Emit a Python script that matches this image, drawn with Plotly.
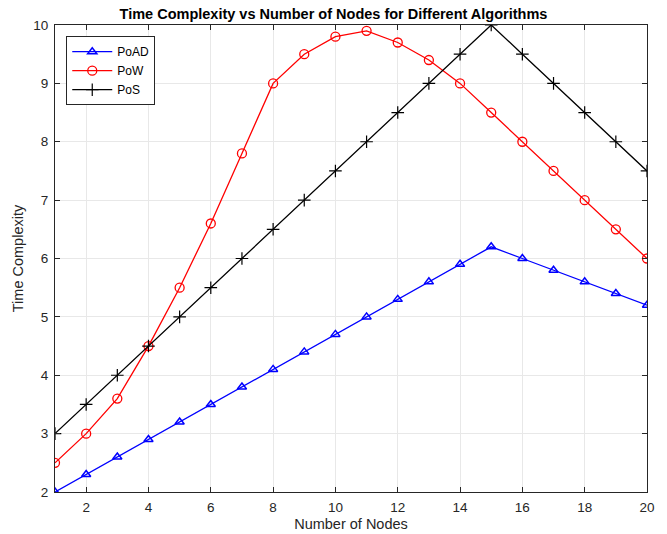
import plotly.graph_objects as go

nodes = list(range(1, 21))
poad = [2.0, 2.3, 2.6, 2.9, 3.2, 3.5, 3.8, 4.1, 4.4, 4.7, 5.0, 5.3, 5.6, 5.9, 6.2, 6.0, 5.8, 5.6, 5.4, 5.2]
pow_ = [2.5, 3.0, 3.6, 4.5, 5.5, 6.6, 7.8, 9.0, 9.5, 9.8, 9.9, 9.7, 9.4, 9.0, 8.5, 8.0, 7.5, 7.0, 6.5, 6.0]
pos = [3.0, 3.5, 4.0, 4.5, 5.0, 5.5, 6.0, 6.5, 7.0, 7.5, 8.0, 8.5, 9.0, 9.5, 10.0, 9.5, 9.0, 8.5, 8.0, 7.5]

FONT = "Liberation Sans, Arial, sans-serif"
fig = go.Figure()
fig.add_trace(go.Scatter(x=nodes, y=poad, name="PoAD", mode="lines+markers",
                         line=dict(color="#0000ff", width=1.3),
                         marker=dict(symbol="triangle-up-open", size=8, color="#0000ff", line=dict(width=1.5))))
fig.add_trace(go.Scatter(x=nodes, y=pow_, name="PoW", mode="lines+markers",
                         line=dict(color="#ff0000", width=1.3),
                         marker=dict(symbol="circle-open", size=9, color="#ff0000", line=dict(width=1.3))))
fig.add_trace(go.Scatter(x=nodes, y=pos, name="PoS", mode="lines+markers",
                         line=dict(color="#000000", width=1.3),
                         marker=dict(symbol="cross-thin-open", size=9, color="#000000", line=dict(width=1.2))))

axis_common = dict(showgrid=True, gridcolor="#e8e8e8", gridwidth=1, zeroline=False,
                   showline=True, linecolor="#262626", linewidth=1, mirror="ticks",
                   ticks="inside", ticklen=5, tickcolor="#262626", automargin=False,
                   tickfont=dict(family=FONT, size=13.5, color="#262626"))

fig.update_layout(
    width=667, height=534,
    margin=dict(l=55, r=20, t=25, b=42),
    paper_bgcolor="white", plot_bgcolor="white",
    title=dict(text="<b>Time Complexity vs Number of Nodes for Different Algorithms</b>",
               x=0.5, xanchor="center", y=1 - 14 / 534, yanchor="middle",
               font=dict(family=FONT, size=14.5, color="#000000")),
    xaxis=dict(range=[1, 20], tickvals=list(range(2, 21, 2)), ticklabelstandoff=3,
               title=dict(text="Number of Nodes", font=dict(family=FONT, size=14.5, color="#262626"), standoff=4),
               **axis_common),
    yaxis=dict(range=[2, 10], tickvals=list(range(2, 11)), ticklabelstandoff=3,
               title=dict(text="Time Complexity", font=dict(family=FONT, size=14.5, color="#262626"), standoff=6),
               **axis_common),
    legend=dict(x=0.019, y=0.976, xanchor="left", yanchor="top",
                bgcolor="white", bordercolor="#262626", borderwidth=1,
                font=dict(family=FONT, size=12, color="#000000"),
                tracegroupgap=0, itemwidth=40),
    showlegend=True,
)
fig.write_html("out.html")
